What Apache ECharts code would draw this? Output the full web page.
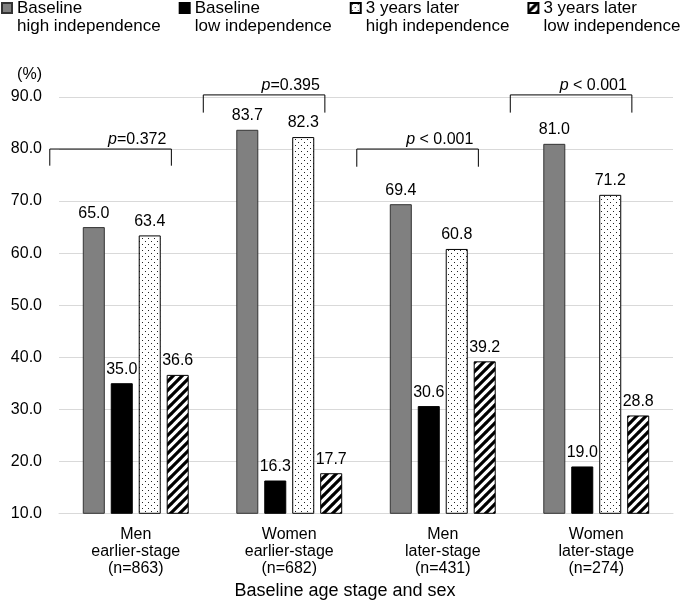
<!DOCTYPE html>
<html><head><meta charset="utf-8">
<script src="https://cdn.jsdelivr.net/npm/echarts@6/dist/echarts.min.js"></script>
<style>html,body{margin:0;padding:0;background:#fff}#c{width:685px;height:606px}</style>
</head><body><div id="c"></div>
<script>
// ---------- data ----------
const categories = ['Men\nearlier-stage\n(n=863)', 'Women\nearlier-stage\n(n=682)', 'Men\nlater-stage\n(n=431)', 'Women\nlater-stage\n(n=274)'];
const seriesNames = ['Baseline\nhigh independence', 'Baseline\nlow independence', '3 years later\nhigh independence', '3 years later\nlow independence'];
const baselineHigh = [65.0, 83.7, 69.4, 81.0];
const baselineLow = [35.0, 16.3, 30.6, 19.0];
const laterHigh = [63.4, 82.3, 60.8, 71.2];
const laterLow = [36.6, 17.7, 39.2, 28.8];
const pTexts = ['=0.372', '=0.395', ' < 0.001', ' < 0.001'];
const bracketTop = [80.0, 90.4, 80.0, 90.4];
const bracketLegEnd = [76.8, 87.0, 76.6, 87.0];
const yMin = 10, yMax = 90, yStep = 10;
const yUnit = '(%)';
const xTitle = 'Baseline age stage and sex';

// ---------- styles ----------
const FONT = '"Liberation Sans", Arial, sans-serif';
function dotPattern() {
  const c = document.createElement('canvas'); c.width = 6; c.height = 6;
  const g = c.getContext('2d');
  g.fillStyle = '#fff'; g.fillRect(0, 0, 6, 6);
  g.fillStyle = '#222';
  g.fillRect(1, 1, 1, 1); g.fillRect(4, 4, 1, 1);
  return { image: c, repeat: 'repeat' };
}
function hatchPattern() {
  const s = 9;
  const c = document.createElement('canvas'); c.width = s; c.height = s;
  const g = c.getContext('2d');
  g.fillStyle = '#fff'; g.fillRect(0, 0, s, s);
  g.strokeStyle = '#000'; g.lineWidth = 3.2; g.lineCap = 'square';
  g.beginPath();
  g.moveTo(-1, s + 1); g.lineTo(s + 1, -1);
  g.moveTo(-1, 1); g.lineTo(1, -1);
  g.moveTo(s - 1, s + 1); g.lineTo(s + 1, s - 1);
  g.stroke();
  return { image: c, repeat: 'repeat' };
}
const barStyles = [
  { color: '#808080', borderColor: '#333', borderWidth: 1 },
  { color: '#000000', borderColor: '#000', borderWidth: 1 },
  { color: dotPattern(), borderColor: '#000', borderWidth: 1 },
  { color: hatchPattern(), borderColor: '#000', borderWidth: 1 }
];
const BR_LEFT = -0.56, BR_RIGHT = 0.232;

const valueSets = [baselineHigh, baselineLow, laterHigh, laterLow];
const barSeries = valueSets.map((vals, i) => ({
  type: 'bar', name: seriesNames[i], data: vals,
  barCategoryGap: '31%', barGap: '27%',
  itemStyle: barStyles[i],
  label: { show: true, position: 'top', distance: 6, fontSize: 16, fontFamily: FONT, color: '#000',
    formatter: p => Number(p.value).toFixed(1) },
  z: 2
}));

const bracketData = bracketTop.map((t, i) => [i, t, bracketLegEnd[i]]);
const bracketSeries = {
  type: 'custom', name: 'brackets', coordinateSystem: 'cartesian2d', silent: true, clip: false, z: 5,
  data: bracketData,
  encode: { x: 0, y: 1 },
  renderItem: (params, api) => {
    const idx = api.value(0);
    const top = api.coord([idx, api.value(1)]);
    const leg = api.coord([idx, api.value(2)]);
    const band = api.size([1, 0])[0];
    const x1 = top[0] + BR_LEFT * band, x2 = top[0] + BR_RIGHT * band;
    return {
      type: 'group',
      children: [
        { type: 'polyline', shape: { points: [[x1, leg[1]], [x1, top[1]], [x2, top[1]], [x2, leg[1]]] },
          style: { stroke: '#000', lineWidth: 1, fill: null } },
        { type: 'text', x: x2 - 5, y: top[1] - 1,
          style: { text: '{i|p}{n|' + pTexts[idx] + '}', align: 'right', verticalAlign: 'bottom',
            rich: { i: { fontStyle: 'italic', fontSize: 16, fontFamily: FONT, fill: '#000' },
                    n: { fontSize: 16, fontFamily: FONT, fill: '#000' } } } }
      ]
    };
  }
};

const chart = echarts.init(document.getElementById('c'), null, { renderer: 'canvas' });
chart.setOption({
  animation: false,
  backgroundColor: '#fff',
  textStyle: { fontFamily: FONT },
  grid: { left: 59, right: 12, top: 97, bottom: 92.7, containLabel: false, outerBoundsMode: 'none' },
  legend: {
    left: 1, top: -1, padding: 0, itemWidth: 10, itemHeight: 28, itemGap: 18,
    icon: 'path://M0,0h10v10h-10zM0,28',
    textStyle: { fontSize: 17, lineHeight: 18, color: '#000', fontFamily: FONT },
    data: seriesNames
  },
  xAxis: {
    type: 'category', data: categories,
    axisLine: { lineStyle: { color: '#d9d9d9', width: 1 } },
    axisTick: { show: false },
    axisLabel: { fontSize: 16, lineHeight: 17, color: '#000', margin: 13, fontFamily: FONT, interval: 0 },
    name: xTitle, nameLocation: 'middle', nameGap: 63,
    nameTextStyle: { fontSize: 18, color: '#000', fontFamily: FONT, padding: [0, 42, 0, 0] }
  },
  yAxis: {
    type: 'value', min: yMin, max: yMax, interval: yStep,
    axisLine: { show: false }, axisTick: { show: false },
    splitLine: { lineStyle: { color: '#d9d9d9', width: 1 } },
    axisLabel: { fontSize: 16, color: '#000', margin: 17, fontFamily: FONT, formatter: v => v.toFixed(1) },
    name: yUnit, nameLocation: 'end', nameGap: 22,
    nameTextStyle: { fontSize: 16, color: '#000', fontFamily: FONT, align: 'right', verticalAlign: 'middle', padding: [0, 17, 0, 0] }
  },
  series: [...barSeries, bracketSeries]
});
</script>
</body></html>
